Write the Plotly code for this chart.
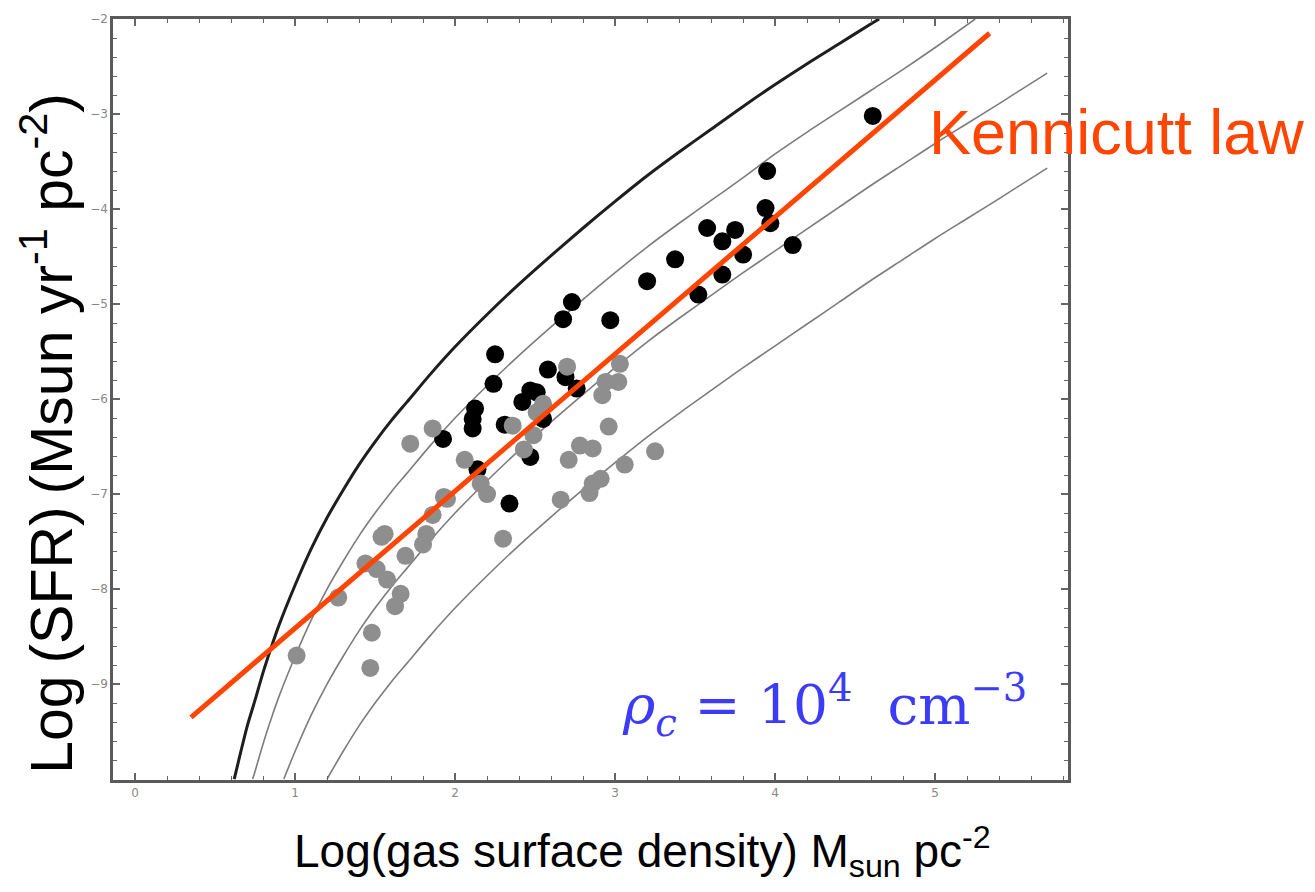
import plotly.graph_objects as go

# ---------------- data ----------------
# thick model curve
thick_x = [0.62, 0.66, 0.70, 0.75, 0.80, 0.85, 0.90, 1.00, 1.10, 1.20, 1.30, 1.40, 1.50, 1.60, 1.70,
           1.85, 2.00, 2.20, 2.40, 2.60, 2.80, 3.00, 3.20, 3.40, 3.60, 3.80, 4.00, 4.20, 4.40, 4.60, 4.65]
thick_y = [-10.0, -9.72, -9.45, -9.17, -8.88, -8.62, -8.38, -7.96, -7.58, -7.25, -6.96, -6.69, -6.45,
           -6.23, -6.03, -5.73, -5.45, -5.11, -4.79, -4.49, -4.20, -3.92, -3.65, -3.40, -3.16, -2.92,
           -2.69, -2.47, -2.26, -2.05, -2.0]

# thin model curves
c2_x = [0.735, 0.75, 0.80, 0.85, 0.90, 1.00, 1.10, 1.20, 1.30, 1.40, 1.50, 1.60, 1.70, 1.85, 2.00,
        2.20, 2.40, 2.60, 2.80, 3.00, 3.20, 3.40, 3.60, 3.80, 4.00, 4.20, 4.40, 4.60, 4.80, 5.00, 5.25]
c2_y = [-10.0, -9.92, -9.63, -9.37, -9.13, -8.71, -8.33, -8.00, -7.71, -7.44, -7.20, -6.98, -6.78,
        -6.48, -6.20, -5.86, -5.54, -5.24, -4.95, -4.67, -4.40, -4.15, -3.91, -3.67, -3.42, -3.19,
        -2.97, -2.75, -2.53, -2.30, -2.0]

c3_x = [0.93, 1.0, 1.1, 1.2, 1.3, 1.4, 1.5, 1.6, 1.7, 1.85, 2.0, 2.2, 2.4, 2.6, 2.8, 3.0, 3.2, 3.4,
        3.6, 3.8, 4.0, 4.2, 4.4, 4.6, 4.8, 5.0, 5.2, 5.4, 5.7]
c3_y = [-10.0, -9.71, -9.33, -9.0, -8.71, -8.44, -8.20, -7.98, -7.78, -7.48, -7.20, -6.86, -6.54,
        -6.24, -5.95, -5.67, -5.40, -5.15, -4.91, -4.67, -4.44, -4.21, -3.98, -3.75, -3.53, -3.31,
        -3.10, -2.89, -2.57]

c4_x = [1.2, 1.3, 1.4, 1.5, 1.6, 1.7, 1.85, 2.0, 2.2, 2.4, 2.6, 2.8, 3.0, 3.2, 3.4, 3.6, 3.8, 4.0,
        4.2, 4.4, 4.6, 4.8, 5.0, 5.2, 5.4, 5.7]
c4_y = [-10.0, -9.71, -9.44, -9.20, -8.98, -8.78, -8.48, -8.20, -7.86, -7.54, -7.24, -6.95, -6.67,
        -6.40, -6.15, -5.91, -5.67, -5.44, -5.21, -4.98, -4.75, -4.53, -4.31, -4.10, -3.89, -3.57]

# Kennicutt law line end points
kenn_x = [0.35, 5.34]
kenn_y = [-9.35, -2.15]

# black data points
black_x = [4.61, 3.95, 3.94, 3.97, 3.75, 3.575, 3.67, 4.11, 3.80, 3.375, 3.67, 3.20, 3.52, 2.73,
           2.675, 2.97, 2.25, 2.24, 2.58, 2.69, 2.76, 2.47, 2.51, 2.42, 2.125, 2.11, 2.11, 2.31,
           2.55, 1.925, 2.47, 2.14, 2.34]
black_y = [-3.02, -3.60, -3.99, -4.15, -4.22, -4.20, -4.34, -4.38, -4.48, -4.53, -4.69, -4.76,
           -4.90, -4.98, -5.16, -5.17, -5.53, -5.84, -5.69, -5.77, -5.89, -5.91, -5.93, -6.03,
           -6.10, -6.21, -6.31, -6.27, -6.21, -6.42, -6.61, -6.74, -7.10]

# grey data points
grey_x = [2.70, 3.03, 2.94, 3.02, 2.92, 2.55, 2.51, 2.36, 2.49, 1.86, 1.72, 2.96, 2.43, 2.78,
          2.86, 2.71, 3.25, 3.06, 2.06, 2.16, 2.20, 1.93, 2.91, 2.86, 2.84, 2.66, 1.86, 2.30,
          1.82, 1.56, 1.95, 1.54, 1.80, 1.69, 1.44, 1.51, 1.575, 1.66, 1.625, 1.27, 1.48, 1.01,
          1.47]
grey_y = [-5.66, -5.63, -5.82, -5.82, -5.96, -6.05, -6.14, -6.28, -6.38, -6.31, -6.47, -6.29,
          -6.53, -6.49, -6.52, -6.64, -6.55, -6.69, -6.64, -6.89, -7.00, -7.03, -6.84, -6.89,
          -6.99, -7.06, -7.22, -7.47, -7.42, -7.42, -7.05, -7.45, -7.53, -7.65, -7.73, -7.79,
          -7.90, -8.05, -8.18, -8.09, -8.46, -8.70, -8.83]

x_ticks = [0, 1, 2, 3, 4, 5]
x_ticktext = ["0", "1", "2", "3", "4", "5"]
y_ticks = [-9, -8, -7, -6, -5, -4, -3, -2]
y_ticktext = ["\u22129", "\u22128", "\u22127", "\u22126", "\u22125", "\u22124", "\u22123", "\u22122"]

# ---------------- figure ----------------
fig = go.Figure()

thin_style = dict(color="#7c7c7c", width=1.6)
for cx, cy in [(c2_x, c2_y), (c3_x, c3_y), (c4_x, c4_y)]:
    fig.add_trace(go.Scatter(x=cx, y=cy, mode="lines",
                             line=dict(shape="spline", smoothing=0.8, **thin_style),
                             hoverinfo="skip", showlegend=False))
fig.add_trace(go.Scatter(x=thick_x, y=thick_y, mode="lines",
                         line=dict(color="#1e1e1e", width=3, shape="spline", smoothing=0.8),
                         hoverinfo="skip", showlegend=False))

fig.add_trace(go.Scatter(x=black_x, y=black_y, mode="markers",
                         marker=dict(color="black", size=18, line=dict(width=0)), showlegend=False))
fig.add_trace(go.Scatter(x=grey_x, y=grey_y, mode="markers",
                         marker=dict(color="#8e8e8e", size=18, line=dict(width=0)), showlegend=False))

fig.add_trace(go.Scatter(x=kenn_x, y=kenn_y, mode="lines",
                         line=dict(color="#ff4500", width=5), showlegend=False, cliponaxis=False))

axis_common = dict(
    showgrid=False, zeroline=False, showline=True, linecolor="#5a5a5a", linewidth=2.5,
    mirror="ticks", ticks="inside", ticklen=7, tickwidth=1.5, tickcolor="#666666",
    tickfont=dict(family="DejaVu Sans", size=12, color="#888888"),
)

fig.update_xaxes(range=[-0.1375, 5.83], tickmode="array", tickvals=x_ticks, ticktext=x_ticktext,
                 minor=dict(ticks="inside", ticklen=4, dtick=0.2, tick0=0, tickcolor="#666666", tickwidth=1.2),
                 **axis_common)
fig.update_yaxes(range=[-10.01, -2.0], tickmode="array", tickvals=y_ticks, ticktext=y_ticktext,
                 minor=dict(ticks="inside", ticklen=4, dtick=0.2, tick0=0, tickcolor="#666666", tickwidth=1.2),
                 **axis_common)

fig.update_layout(
    width=1315, height=892,
    margin=dict(l=113, r=247, t=15, b=112),
    plot_bgcolor="white", paper_bgcolor="white",
    showlegend=False,
    annotations=[
        dict(text="Kennicutt law", xref="paper", yref="paper", x=0.852, y=(780 - 129) / 765,
             xanchor="left", yanchor="middle", showarrow=False,
             font=dict(family="Liberation Sans, Arial", size=63, color="#ff4500")),
        dict(text="<i>\u03c1</i><sub><i>c</i></sub> = 10<sup>4</sup>  cm<sup>\u22123</sup>",
             xref="paper", yref="paper", x=(620 - 113) / 955, y=(780 - 705) / 765,
             xanchor="left", yanchor="middle", showarrow=False,
             font=dict(family="DejaVu Serif", size=55, color="#3c3cf8")),
        dict(text="Log\u2009(SFR)\u2009(Msun yr<sup>-1</sup> pc<sup>-2</sup>)", xref="paper", yref="paper",
             x=(48 - 113) / 955, y=(780 - 432) / 765, textangle=-90,
             xanchor="center", yanchor="middle", showarrow=False,
             font=dict(family="Liberation Sans, Arial", size=59, color="black")),
        dict(text="Log(gas surface density) M<sub>sun</sub> pc<sup>-2</sup>", xref="paper", yref="paper",
             x=(642 - 113) / 955, y=(780 - 852) / 765,
             xanchor="center", yanchor="middle", showarrow=False,
             font=dict(family="Liberation Sans, Arial", size=46, color="black")),
    ],
)

fig.write_html("out.html")
